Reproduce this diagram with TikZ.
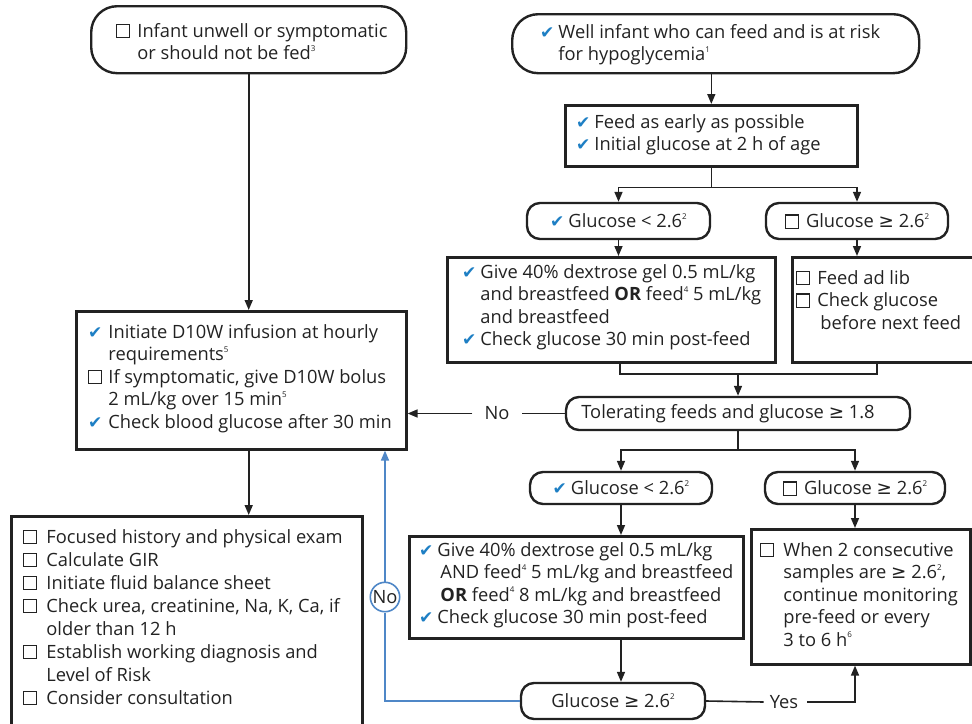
\documentclass[tikz,border=0pt]{standalone}
\usepackage{fontspec}
\setmainfont{Open Sans}
\newfontfamily\symfont{DejaVu Sans}
\usetikzlibrary{arrows.meta}

\definecolor{ckblue}{HTML}{1E7FC4}
\definecolor{loopblue}{HTML}{4F87C7}
\definecolor{ink}{HTML}{222222}

% list markers and small helpers
\newcommand\ck{\textcolor{ckblue}{\fontsize{17}{17}\selectfont\symfont ✔}}
\newcommand\cbx{\raisebox{0pt}{\setlength\fboxsep{0pt}\setlength\fboxrule{1.1pt}\fbox{\rule{12pt}{0pt}\rule{0pt}{12pt}}}}
\newcommand\gesym{{\symfont ≥}}
\newcommand\fnt[1]{\raisebox{0.85ex}{\fontsize{8}{8}\selectfont #1}}
\newcommand\mainsize{\fontsize{18.3}{22.5}\selectfont}

\tikzset{
  box/.style={draw=ink, line width=2.6pt, inner sep=0pt, anchor=north west},
  pill/.style={draw=ink, line width=2.4pt, rounded corners=13pt, inner sep=0pt, font=\mainsize},
  bigpill/.style={draw=ink, line width=2.4pt, rounded corners=26pt, inner sep=0pt, anchor=north west},
  txt/.style={anchor=base west, inner sep=0pt, font=\mainsize, text=ink},
  ln/.style={draw=ink, line width=1.6pt},
  arr/.style={draw=ink, line width=1.6pt, -{Triangle[length=10pt,width=8pt]}},
  lbl/.style={font=\mainsize, inner sep=0pt, text=ink},
}

\begin{document}
\begin{tikzpicture}[x=1pt, y=-1pt]
\useasboundingbox (0,0) rectangle (972,723);

% ---------- entry points ----------
\node[bigpill, minimum width=315, minimum height=67] (tl) at (90,5) {};
\node[txt] (tlt) at (116,37) {\begin{tabular}[t]{@{}l@{\hspace{7pt}}l@{}}
\cbx & Infant unwell or symptomatic\\
 & or should not be fed\fnt{3}\end{tabular}};

\node[bigpill, minimum width=407, minimum height=59] (tr) at (511,13) {};
\node[txt] (trt) at (540,38) {\begin{tabular}[t]{@{}l@{\hspace{4pt}}l@{}}
\ck & Well infant who can feed and is at risk\\
 & for hypoglycemia\fnt{1}\end{tabular}};

% ---------- right branch, first round ----------
\node[box, minimum width=292, minimum height=61] (feed) at (564,104) {};
\node[txt] (feedt) at (576,128) {\begin{tabular}[t]{@{}l@{\hspace{4pt}}l@{}}
\ck & Feed as early as possible\\
\ck & Initial glucose at 2 h of age\end{tabular}};

\node[pill, minimum width=183, minimum height=36, text=ink] (g1) at (618.5,221) {\ck\hspace{4pt}Glucose < 2.6\fnt{2}};
\node[pill, minimum width=182, minimum height=36, text=ink] (g2) at (857,221) {\cbx\hspace{7pt}Glucose \gesym\ 2.6\fnt{2}};

\node[box, minimum width=328, minimum height=105] (gel1) at (446,256) {};
\node[txt] (gel1t) at (462,278) {\begin{tabular}[t]{@{}l@{\hspace{4pt}}l@{}}
\ck & Give 40\% dextrose gel 0.5 mL/kg\\
 & and breastfeed \textbf{OR} feed\fnt{4} 5 mL/kg\\
 & and breastfeed\\
\ck & Check glucose 30 min post-feed\end{tabular}};

\node[box, minimum width=200, minimum height=105] (adlib) at (791,256) {};
\node[txt] (adlibt) at (796,284) {\begin{tabular}[t]{@{}l@{\hspace{7pt}}l@{}}
\cbx & Feed ad lib\\
\cbx & Check glucose\\
 & \hspace{3pt}before next feed\end{tabular}};

\node[pill, minimum width=344, minimum height=33, text=ink] (tol) at (738,413.5) {\hspace{-20pt}Tolerating feeds and glucose \gesym\ 1.8};

% ---------- right branch, second round ----------
\node[pill, minimum width=182, minimum height=32, text=ink] (g3) at (621,488) {\ck\hspace{4pt}Glucose < 2.6\fnt{2}};
\node[pill, minimum width=180, minimum height=32, text=ink] (g4) at (855,488) {\cbx\hspace{7pt}Glucose \gesym\ 2.6\fnt{2}};

\node[box, minimum width=334, minimum height=102] (gel2) at (408,535) {};
\node[txt] (gel2t) at (419,556) {\begin{tabular}[t]{@{}l@{\hspace{4pt}}l@{}}
\ck & Give 40\% dextrose gel 0.5 mL/kg\\
 & \hspace{3pt}AND feed\fnt{4} 5 mL/kg and breastfeed\\
 & \hspace{3pt}\textbf{OR} feed\fnt{4} 8 mL/kg and breastfeed\\
\ck & Check glucose 30 min post-feed\end{tabular}};

\node[box, minimum width=219, minimum height=135] (when) at (750,528) {};
\node[txt] (whent) at (760,556) {\begin{tabular}[t]{@{}l@{\hspace{9pt}}l@{}}
\cbx & When 2 consecutive\\
 & samples are \gesym\ 2.6\fnt{2},\\
 & continue monitoring\\
 & pre-feed or every\\
 & 3 to 6 h\fnt{6}\end{tabular}};

\node[pill, minimum width=184, minimum height=36, text=ink] (g5) at (613,701) {Glucose \gesym\ 2.6\fnt{2}};

% ---------- left branch ----------
\node[box, minimum width=330, minimum height=138] (d10) at (75,310) {};
\node[txt] (d10t) at (88,338) {\begin{tabular}[t]{@{}l@{\hspace{6pt}}l@{}}
\ck & Initiate D10W infusion at hourly\\
 & requirements\fnt{5}\\
\cbx & If symptomatic, give D10W bolus\\
 & 2 mL/kg over 15 min\fnt{5}\\
\ck & Check blood glucose after 30 min\end{tabular}};

\node[box, minimum width=351, minimum height=230] (bl) at (10,515) {};
\node[txt, font=\fontsize{18.3}{23}\selectfont] (blt) at (23,543) {\begin{tabular}[t]{@{}l@{\hspace{9pt}}l@{}}
\cbx & Focused history and physical exam\\
\cbx & Calculate GIR\\
\cbx & Initiate fluid balance sheet\\
\cbx & Check urea, creatinine, Na, K, Ca, if\\
 & older than 12 h\\
\cbx & Establish working diagnosis and\\
 & Level of Risk\\
\cbx & Consider consultation\end{tabular}};

% ---------- connectors ----------
\draw[arr] (tl.south) -- (tl.south |- d10.north);
\draw[arr] (d10.south -| tl.south) -- (bl.north -| tl.south);
\draw[arr] (feed.north |- tr.south) -- (feed.north);

\draw[ln] (feed.south) -- ++(0,20) coordinate (s1);
\draw[arr] (s1) -| (g1.north);
\draw[arr] (s1) -| (g2.north);
\draw[arr] (g1.south) -- (g1.south |- gel1.north);
\draw[arr] (g2.south) -- (g2.south |- adlib.north);

\coordinate (mL) at (620,374);
\coordinate (mR) at (877,374);
\draw[ln] (gel1.south -| mL) -- (mL) -- (mR) -- (adlib.south -| mR);
\draw[arr] (tol.north |- mL) -- (tol.north);

\node[lbl] (no1) at (497,413.5) {No};
\draw[ln] (tol.west) -- ([xshift=12pt]no1.east);
\draw[arr] ([xshift=-12pt]no1.west) -- (d10.east |- no1);

\draw[ln] (tol.south) -- ++(0,19) coordinate (s2);
\draw[arr] (s2) -| (g3.north);
\draw[arr] (s2) -| (g4.north);
\draw[arr] (g3.south) -- (g3.south |- gel2.north);
\draw[arr] (g4.south) -- (g4.south |- when.north);
\draw[arr] (gel2.south -| g3.south) -- (g5.north -| g3.south);

\node[lbl] (yes) at (784,702) {Yes};
\coordinate (yc) at (855,702);
\draw[ln] (g5.east) -- ([xshift=-6pt]yes.west);
\draw[arr] ([xshift=9pt]yes.east) -- (yc) -- (when.south -| yc);

\node[circle, draw=loopblue, line width=1.6pt, fill=white, inner sep=0.5pt, font=\mainsize, text=ink] (no2) at (385,597) {No};
\draw[ln, draw=loopblue] (g5.west) -| (no2.south);
\draw[arr, draw=loopblue, fill=loopblue] (no2.north) -- (d10.south -| no2);
\end{tikzpicture}
\end{document}
